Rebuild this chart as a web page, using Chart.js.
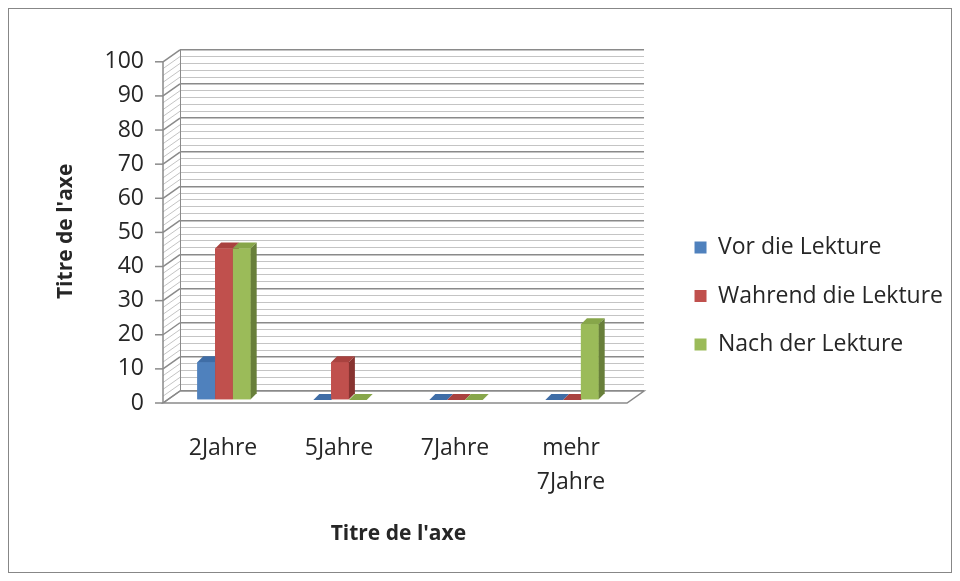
<!DOCTYPE html>
<html>
<head>
<meta charset="utf-8">
<script src="https://cdn.jsdelivr.net/npm/chart.js@4.4.0/dist/chart.umd.min.js"></script>
<style>
  html, body { margin: 0; padding: 0; background: #fff; }
</style>
</head>
<body>
<canvas id="chart" width="960" height="581"></canvas>
<script>
// data
var categories = ['2Jahre', '5Jahre', '7Jahre', ['mehr', '7Jahre']];
var seriesNames = ['Vor die Lekture', 'Wahrend die Lekture', 'Nach der Lekture'];
var vorDieLekture = [11.1, 0, 0, 0];
var wahrendDieLekture = [44.4, 11.1, 0, 0];
var nachDerLekture = [44.4, 0, 0, 22.2];
var yMin = 0, yMax = 100, yMajorStep = 10, yMinorStep = 2;
var axisTitle = "Titre de l'axe";

var fronts = ['#4F81BD', '#C0504D', '#9BBB59'];
var tops = ['#3F6DA6', '#A9423F', '#87A64A'];
var sides = ['#2E5079', '#873330', '#687F3A'];

// 3d offsets
var wallDx = 17, wallDy = 12;
var barShiftX = -14, barShiftY = 9;
var depth = 6;

var wallPlugin = {
	id: 'wall',
	beforeDraw: function(chart) {
		var ctx = chart.ctx;
		ctx.save();
		ctx.fillStyle = '#fff';
		ctx.fillRect(0, 0, chart.width, chart.height);
		ctx.strokeStyle = '#878787';
		ctx.lineWidth = 1;
		ctx.strokeRect(8.5, 8.5, 943, 564);
		ctx.restore();
	},
	beforeDatasetsDraw: function(chart) {
		var ctx = chart.ctx, y = chart.scales.y, a = chart.chartArea;
		ctx.save();
		// floor
		ctx.beginPath();
		ctx.moveTo(a.left, a.bottom);
		ctx.lineTo(a.left - wallDx, a.bottom + wallDy);
		ctx.lineTo(a.right - wallDx, a.bottom + wallDy);
		ctx.lineTo(a.right, a.bottom);
		ctx.closePath();
		ctx.fillStyle = '#fff';
		ctx.fill();
		ctx.strokeStyle = '#8a8a8a';
		ctx.lineWidth = 1.5;
		ctx.stroke();
		// side wall
		y.ticks.forEach(function(t) {
			var py = y.getPixelForValue(t.value);
			var major = t.value % yMajorStep === 0;
			ctx.beginPath();
			ctx.moveTo(a.left - wallDx, py + wallDy);
			ctx.lineTo(a.left, py);
			ctx.strokeStyle = major ? '#8a8a8a' : '#c4c4c4';
			ctx.lineWidth = major ? 1.5 : 1;
			ctx.stroke();
			if (major) {
				ctx.beginPath();
				ctx.moveTo(a.left - wallDx - 8, py + wallDy);
				ctx.lineTo(a.left - wallDx, py + wallDy);
				ctx.stroke();
			}
		});
		ctx.beginPath();
		ctx.moveTo(a.left - wallDx, y.getPixelForValue(yMax) + wallDy);
		ctx.lineTo(a.left - wallDx, y.getPixelForValue(yMin) + wallDy);
		ctx.strokeStyle = '#8a8a8a';
		ctx.lineWidth = 1.5;
		ctx.stroke();
		ctx.restore();
		// bars sit in front of the back wall
		ctx.save();
		ctx.translate(barShiftX, barShiftY);
	},
	afterDatasetsDraw: function(chart) {
		var ctx = chart.ctx;
		for (var i = 0; i < categories.length; i++) {
			for (var j = 0; j < seriesNames.length; j++) {
				var bar = chart.getDatasetMeta(j).data[i];
				var p = bar.getProps(['x', 'y', 'base', 'width'], true);
				var l = p.x - p.width / 2, r = p.x + p.width / 2;
				ctx.fillStyle = fronts[j];
				ctx.fillRect(l, p.y, p.width, p.base - p.y);
				// top
				ctx.beginPath();
				ctx.moveTo(l, p.y);
				ctx.lineTo(l + depth, p.y - depth);
				ctx.lineTo(r + depth, p.y - depth);
				ctx.lineTo(r, p.y);
				ctx.closePath();
				ctx.fillStyle = tops[j];
				ctx.fill();
				// side
				ctx.beginPath();
				ctx.moveTo(r, p.y);
				ctx.lineTo(r + depth, p.y - depth);
				ctx.lineTo(r + depth, p.base - depth);
				ctx.lineTo(r, p.base);
				ctx.closePath();
				ctx.fillStyle = sides[j];
				ctx.fill();
			}
		}
		ctx.restore();
	}
};

var tickFont = { family: 'Open Sans', size: 23 };
var legendFont = { family: 'Open Sans', size: 23 };
var titleFont = { family: 'Open Sans', size: 21, weight: 'bold' };

var ctx = document.getElementById('chart').getContext('2d');
var chart = new Chart(ctx, {
	type: 'bar',
	data: {
		labels: categories,
		datasets: [
			{ label: seriesNames[0], data: vorDieLekture, backgroundColor: fronts[0], borderWidth: 0 },
			{ label: seriesNames[1], data: wahrendDieLekture, backgroundColor: fronts[1], borderWidth: 0 },
			{ label: seriesNames[2], data: nachDerLekture, backgroundColor: fronts[2], borderWidth: 0 }
		]
	},
	options: {
		responsive: false,
		devicePixelRatio: 1,
		animation: false,
		categoryPercentage: 0.46,
		barPercentage: 1,
		layout: { padding: { top: 45, bottom: 34, left: 40, right: 7 } },
		plugins: {
			tooltip: { enabled: false },
			legend: {
				position: 'right',
				maxWidth: 340,
				labels: {
					font: legendFont,
					color: '#262626',
					boxWidth: 12,
					boxHeight: 12,
					padding: 25.5
				}
			}
		},
		scales: {
			x: {
				grid: { display: false, drawTicks: false },
				border: { display: false },
				ticks: {
					font: { family: 'Open Sans', size: 23, lineHeight: 1.48 },
					color: '#262626',
					padding: 40,
					labelOffset: -15,
					maxRotation: 0,
					autoSkip: false
				},
				title: {
					display: true,
					// trailing spaces nudge the title toward the front edge
					text: axisTitle + '     ',
					font: titleFont,
					color: '#262626',
					padding: { top: 0, bottom: 0 }
				},
				afterFit: function(s) { s.height = 156; }
			},
			y: {
				min: yMin,
				max: yMax,
				grid: {
					drawTicks: false,
					color: function(c) { return c.tick && c.tick.value % yMajorStep === 0 ? '#8a8a8a' : '#c4c4c4'; },
					lineWidth: function(c) { return c.tick && c.tick.value % yMajorStep === 0 ? 1.5 : 1; }
				},
				border: { display: true, color: '#8a8a8a', width: 1 },
				ticks: {
					stepSize: yMinorStep,
					autoSkip: false,
					font: tickFont,
					color: '#262626',
					padding: 36,
					labelOffset: 12,
					callback: function(v) { return v % yMajorStep === 0 ? v : ''; }
				},
				title: {
					display: true,
					text: axisTitle + '    ',
					font: titleFont,
					color: '#262626',
					padding: { top: 13, bottom: 0 }
				},
				afterFit: function(s) { s.width = 140; }
			},
			gap: {
				position: 'right',
				display: true,
				grid: { display: false, drawTicks: false },
				border: { display: false },
				ticks: { display: false },
				afterFit: function(s) { s.width = 25; }
			}
		}
	},
	plugins: [wallPlugin]
});
</script>
</body>
</html>
